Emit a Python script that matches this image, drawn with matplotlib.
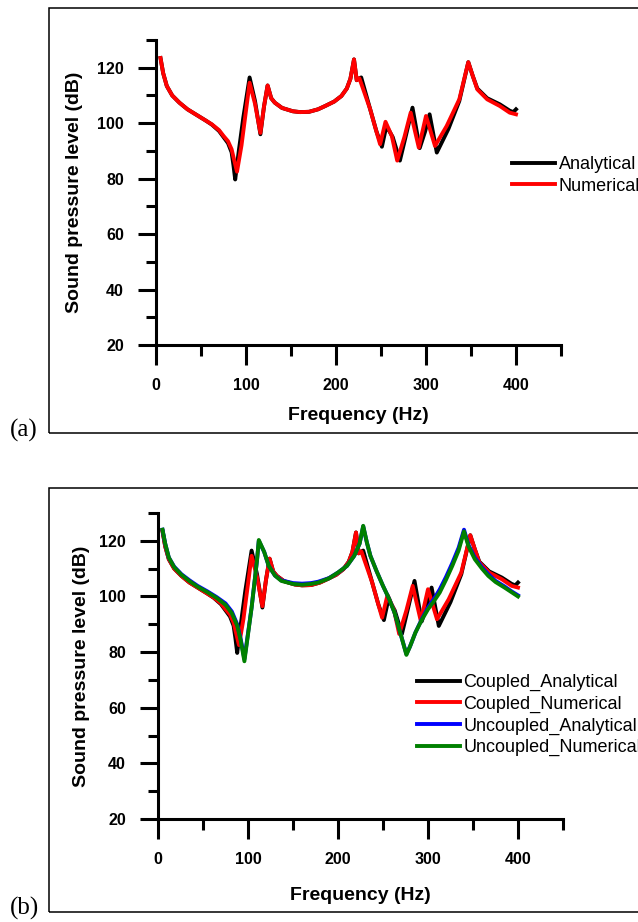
import matplotlib
matplotlib.use("Agg")
import matplotlib.pyplot as plt
from matplotlib.ticker import FixedLocator
from matplotlib.patches import Rectangle

# ---------------- data ----------------
freq_ca = [5, 8, 12, 18, 26, 35, 44, 55, 62, 70, 75, 80, 84, 86, 88, 92, 97, 104, 110, 116, 120, 124,
           128, 132, 140, 152, 160, 170, 180, 188, 198, 206, 212, 216, 220, 223, 225, 228, 238, 245,
           251, 256, 263, 271, 278, 285, 293, 299, 304, 312, 325, 337, 347, 352, 357, 368, 382, 393,
           397, 400]
spl_ca = [123.5, 118, 113.4, 110, 107.4, 105, 103.2, 101, 99.5, 97.2, 95, 92.8, 89.5, 85, 79.7, 90, 102,
          116.5, 108, 96, 106, 113.6, 109, 107.4, 105.5, 104.3, 104, 104.1, 105, 106.2, 107.8, 109.8,
          112.5, 116, 123, 115.5, 116, 116.5, 105, 97, 91.5, 99, 95, 86.5, 96, 105.6, 91, 97, 103.2,
          89.4, 98, 108, 122, 117, 112.5, 109, 106.8, 104.5, 104, 105]

freq_cn = [5, 8, 12, 18, 26, 35, 44, 55, 62, 70, 75, 80, 84, 87, 90, 95, 104, 110, 116, 120, 124,
           128, 132, 140, 152, 160, 170, 180, 188, 198, 206, 212, 216, 220, 223, 226, 238, 244,
           249, 255, 262, 268, 276, 283, 292, 300, 310, 323, 337, 347, 352, 357, 368, 382, 393, 400]
spl_cn = [123.5, 118, 113.4, 110, 107.4, 105, 103.2, 101, 99.6, 97.5, 95.4, 93.5, 90.6, 86.5, 82.5, 92,
          114.6, 107, 96.5, 106, 113.6, 109, 107.4, 105.5, 104.3, 104, 104.1, 105, 106.2, 107.8, 109.8,
          112.5, 116, 123, 115.5, 116.2, 105, 98, 92.4, 100.5, 95.4, 86.5, 95, 103.8, 91.2, 102.6, 91.8,
          99, 108.6, 122, 117, 112.2, 108.6, 106.2, 103.8, 103.2]

freq_un = [5, 8, 12, 18, 26, 35, 44, 55, 65, 75, 82, 88, 92, 96, 104, 110, 112, 118, 123, 130, 137,
           150, 160, 170, 178, 190, 200, 210, 218, 224, 228, 232, 236, 243, 250, 257, 263, 270, 276,
           280, 286, 293, 300, 307, 313, 320, 327, 334, 340, 345, 352, 360, 367, 375, 385, 393, 400]
spl_un = [124, 119, 114, 110.5, 107.8, 105.5, 103.5, 101.5, 99.5, 97, 94, 89.5, 84, 76.7, 96, 113,
          120.3, 116, 111, 107.5, 105.6, 104.5, 104.2, 104.5, 105, 106.5, 108.6, 111, 114.6, 119, 125.4,
          119.5, 114.6, 109, 103.8, 99, 94, 86, 79, 82, 87, 91.5, 95.4, 98.5, 101.4, 106, 111, 116.5,
          123.4, 118, 113.4, 110, 107.4, 105.2, 103.2, 101.5, 100]

freq_ua = [5, 8, 12, 18, 26, 35, 44, 55, 65, 75, 82, 88, 92, 96, 104, 110, 112, 118, 123, 130, 137,
           150, 160, 170, 178, 190, 200, 210, 218, 224, 228, 232, 236, 243, 250, 257, 263, 270, 276,
           280, 286, 293, 300, 307, 313, 320, 327, 334, 340, 345, 352, 360, 367, 375, 385, 393, 400]
spl_ua = [124, 119, 114, 110.7, 108, 105.8, 103.8, 101.8, 99.8, 97.5, 94.6, 90, 84.5, 77.5, 96, 113,
          120, 116, 111, 107.5, 105.8, 104.8, 104.6, 104.8, 105.3, 106.6, 108.6, 111, 114.6, 119, 125.2,
          119.5, 114.6, 109, 103.8, 99, 94, 86, 79.3, 82, 87, 91.8, 96, 99.3, 102.5, 107, 112, 117.5,
          124, 118.5, 114, 110.5, 108, 105.6, 103.6, 101.8, 100.4]

x_major = [0, 100, 200, 300, 400]
x_minor = [50, 150, 250, 350, 450]
y_major = [20, 40, 60, 80, 100, 120]
y_minor = [30, 50, 70, 90, 110, 130]

# ---------------- figure ----------------
W, H = 638, 922
fig = plt.figure(figsize=(W / 100, H / 100), dpi=100)
fig.patch.set_facecolor("white")

SANS = ["Liberation Sans", "DejaVu Sans"]
SERIF = ["Liberation Serif", "DejaVu Serif"]


def px_rect(l, t, r, b):
    return [l / W, 1 - b / H, (r - l) / W, (b - t) / H]


def style_axes(ax, xpad, ypad):
    ax.set_xlim(0, 450)
    ax.set_ylim(20, 130)
    for s in ("top", "right"):
        ax.spines[s].set_visible(False)
    for s in ("left", "bottom"):
        ax.spines[s].set_linewidth(2.2)
    ax.xaxis.set_major_locator(FixedLocator(x_major))
    ax.xaxis.set_minor_locator(FixedLocator(x_minor))
    ax.yaxis.set_major_locator(FixedLocator(y_major))
    ax.yaxis.set_minor_locator(FixedLocator(y_minor))
    ax.tick_params(axis="y", which="major", direction="out", length=13, width=2.2, pad=10,
                   labelsize=11.5)
    ax.tick_params(axis="y", which="minor", direction="out", length=7, width=2.2)
    ax.tick_params(axis="x", which="major", direction="out", length=14.5, width=2.2, pad=9,
                   labelsize=11.5)
    ax.tick_params(axis="x", which="minor", direction="out", length=8, width=2.2)
    for lab in ax.get_xticklabels() + ax.get_yticklabels():
        lab.set_fontweight("bold")
        lab.set_family(SANS)
    ax.set_xlabel("Frequency (Hz)", fontsize=14, fontweight="bold", family=SANS, labelpad=xpad)
    ax.set_ylabel("Sound pressure level (dB)", fontsize=14, fontweight="bold", family=SANS,
                  labelpad=ypad)
    ax.patch.set_alpha(0)


LW = 2.8

# panel frames
fig.patches.append(Rectangle((49 / W, 1 - 433 / H), 700 / W, (433 - 8) / H,
                             transform=fig.transFigure, fill=False, lw=1.1, ec="black"))
fig.patches.append(Rectangle((49 / W, 1 - 912 / H), 700 / W, (912 - 488) / H,
                             transform=fig.transFigure, fill=False, lw=1.1, ec="black"))

leg_kw = dict(frameon=False, borderpad=0, borderaxespad=0, handlelength=2.4,
              handletextpad=0.18, labelspacing=0.25, prop={"family": SANS, "size": 13})

# ---- panel (a)
ax1 = fig.add_axes(px_rect(156, 40, 561, 345))
style_axes(ax1, xpad=10.5, ypad=10)
ax1.plot(freq_ca, spl_ca, color="black", lw=LW, label="Analytical", solid_joinstyle="round")
ax1.plot(freq_cn, spl_cn, color="red", lw=LW, label="Numerical", solid_joinstyle="round")
ax1.legend(loc="upper left", bbox_to_anchor=(512 / W, 1 - 156 / H),
           bbox_transform=fig.transFigure, **leg_kw)

# ---- panel (b)
ax2 = fig.add_axes(px_rect(158, 513, 563, 819))
style_axes(ax2, xpad=15, ypad=7)
ax2.plot(freq_ca, spl_ca, color="black", lw=LW, label="Coupled_Analytical", solid_joinstyle="round")
ax2.plot(freq_cn, spl_cn, color="red", lw=LW, label="Coupled_Numerical", solid_joinstyle="round")
ax2.plot(freq_ua, spl_ua, color="blue", lw=LW, label="Uncoupled_Analytical", solid_joinstyle="round")
ax2.plot(freq_un, spl_un, color="green", lw=LW, label="Uncoupled_Numerical", solid_joinstyle="round")
ax2.legend(loc="upper left", bbox_to_anchor=(417 / W, 1 - 674 / H),
           bbox_transform=fig.transFigure, **leg_kw)

# panel letters
fig.text(10 / W, 1 - 430 / H, "(a)", fontsize=18, family=SERIF, va="center", ha="left")
fig.text(10 / W, 1 - 908 / H, "(b)", fontsize=18, family=SERIF, va="center", ha="left")

fig.savefig("out.png", dpi=100)
